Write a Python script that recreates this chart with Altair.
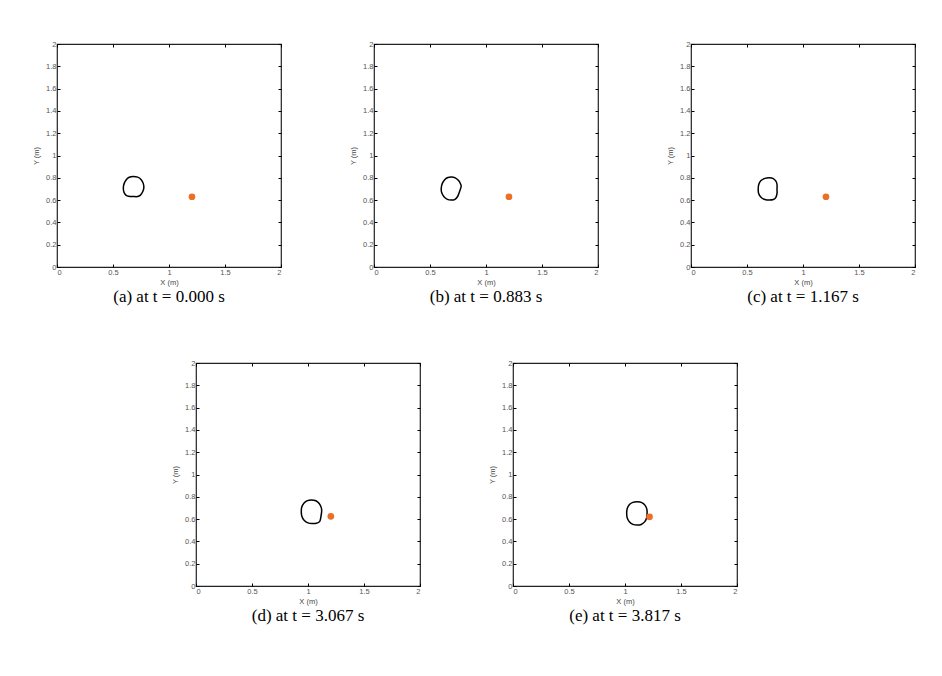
import altair as alt
import pandas as pd

# panel captions
captions = [
    "(a) at t = 0.000 s",
    "(b) at t = 0.883 s",
    "(c) at t = 1.167 s",
    "(d) at t = 3.067 s",
    "(e) at t = 3.817 s",
]

# outline of the body in each frame
a_x = [0.68, 0.72, 0.75, 0.77, 0.775, 0.765, 0.745, 0.72, 0.68, 0.64, 0.615, 0.598, 0.592, 0.60, 0.62, 0.645]
a_y = [0.812, 0.806, 0.785, 0.75, 0.71, 0.675, 0.645, 0.632, 0.632, 0.634, 0.645, 0.67, 0.71, 0.75, 0.785, 0.805]

b_x = [0.69, 0.725, 0.755, 0.775, 0.778, 0.765, 0.745, 0.72, 0.69, 0.655, 0.625, 0.605, 0.60, 0.61, 0.635, 0.66]
b_y = [0.808, 0.80, 0.775, 0.74, 0.72, 0.68, 0.63, 0.605, 0.60, 0.607, 0.63, 0.665, 0.705, 0.75, 0.787, 0.803]

c_x = [0.70, 0.735, 0.758, 0.768, 0.768, 0.768, 0.758, 0.735, 0.70, 0.66, 0.625, 0.604, 0.60, 0.605, 0.625, 0.66]
c_y = [0.80, 0.793, 0.77, 0.74, 0.70, 0.66, 0.625, 0.605, 0.60, 0.605, 0.625, 0.66, 0.70, 0.74, 0.775, 0.795]

d_x = [1.03, 1.07, 1.10, 1.118, 1.122, 1.115, 1.105, 1.075, 1.04, 1.00, 0.965, 0.945, 0.94, 0.945, 0.965, 0.995]
d_y = [0.772, 0.765, 0.74, 0.705, 0.67, 0.62, 0.58, 0.562, 0.56, 0.566, 0.59, 0.625, 0.665, 0.71, 0.745, 0.766]

e_x = [1.11, 1.15, 1.178, 1.195, 1.197, 1.193, 1.175, 1.145, 1.11, 1.07, 1.04, 1.02, 1.015, 1.02, 1.04, 1.07]
e_y = [0.755, 0.748, 0.725, 0.69, 0.65, 0.61, 0.575, 0.552, 0.546, 0.553, 0.575, 0.61, 0.65, 0.695, 0.73, 0.75]

# the orange target point
dot_x = [1.205, 1.205, 1.205, 1.204, 1.219]
dot_y = [0.63, 0.63, 0.63, 0.625, 0.62]

x_ticks = [0, 0.5, 1, 1.5, 2]
y_ticks = [0, 0.2, 0.4, 0.6, 0.8, 1, 1.2, 1.4, 1.6, 1.8, 2]

shapes_x = [a_x, b_x, c_x, d_x, e_x]
shapes_y = [a_y, b_y, c_y, d_y, e_y]

# ticks point inwards: axis pulled 3px inside the frame, domain line off
ax_style = dict(
    domain=False, grid=False, tickColor="black", tickSize=3, tickWidth=1,
    offset=-3, labelFont="Liberation Sans", labelFontSize=7.5, labelColor="#555",
    labelPadding=1, titleFont="Liberation Sans", titleFontSize=7.5,
    titleFontWeight="normal", titleColor="#444", format="~g",
)


def panel(i):
    shape = pd.DataFrame({"x": shapes_x[i], "y": shapes_y[i], "k": range(len(shapes_x[i]))})
    dot = pd.DataFrame({"x": [dot_x[i]], "y": [dot_y[i]]})
    sx = alt.Scale(domain=[0, 2], nice=False, zero=False)
    sy = alt.Scale(domain=[0, 2], nice=False, zero=False)

    outline = alt.Chart(shape).mark_line(
        color="black", strokeWidth=1.5, interpolate="cardinal-closed"
    ).encode(
        x=alt.X("x:Q", scale=sx, axis=alt.Axis(values=x_ticks, title="X (m)", titlePadding=3, **ax_style)),
        y=alt.Y("y:Q", scale=sy, axis=alt.Axis(values=y_ticks, title="Y (m)", titlePadding=5, **ax_style)),
        order="k:Q",
    )
    target = alt.Chart(dot).mark_circle(color="#EC6F26", size=45, opacity=1).encode(
        x=alt.X("x:Q", scale=sx, axis=alt.Axis(values=x_ticks, orient="top", labels=False, title="", **ax_style)),
        y=alt.Y("y:Q", scale=sy, axis=alt.Axis(values=y_ticks, orient="right", labels=False, title="", **ax_style)),
    )
    return alt.layer(outline, target).resolve_axis(x="independent", y="independent").properties(
        width=224, height=223,
        view=alt.ViewBackground(stroke="#222", strokeWidth=1.2),
        title=alt.TitleParams(captions[i], orient="bottom", font="Liberation Serif",
                              fontSize=17, fontWeight="normal", color="black", offset=3),
    )


# empty block that pushes the second row to the right
spacer = alt.Chart(pd.DataFrame({"v": [0]})).mark_point(opacity=0).encode(
    x=alt.value(0), y=alt.value(0)
).properties(width=48, height=10)

top = alt.hconcat(panel(0), panel(1), panel(2), spacing=65)
bottom = alt.hconcat(spacer, panel(3), panel(4), spacing=65)

chart = alt.vconcat(top, bottom, spacing=52).properties(
    padding={"left": 23, "top": 31, "right": 5, "bottom": 5}
).configure_view(strokeWidth=0)

chart.save("out.html", embed_options={"renderer": "svg", "actions": False})
